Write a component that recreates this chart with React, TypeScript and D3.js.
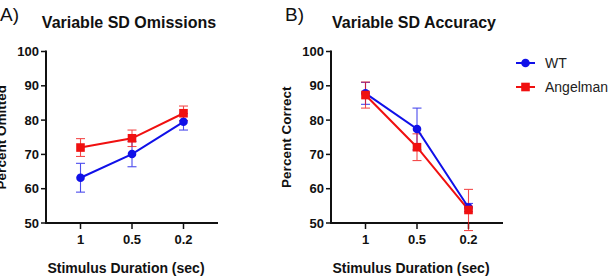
import React from 'react';
import * as d3 from 'd3';

// Stimulus durations (categorical x axis)
const durations = ['1', '0.5', '0.2'];
const yTicks = [50, 60, 70, 80, 90, 100];

// Omissions (percent omitted), mean and SEM
const omitWT = [63.2, 70.1, 79.5];
const omitWTErr = [4.2, 3.7, 2.4];
const omitAS = [72.0, 74.7, 82.0];
const omitASErr = [2.6, 2.4, 2.1];

// Accuracy (percent correct), mean and SEM
const accWT = [87.8, 77.4, 54.5];
const accWTErr = [3.2, 6.1, 1.2];
const accAS = [87.3, 72.1, 53.8];
const accASErr = [3.8, 3.9, 6.0];

const BLUE = '#1010e8';
const RED = '#f01010';
const FONT = 'Liberation Sans, Arial, Helvetica, sans-serif';

interface Series {
  name: string;
  values: number[];
  errors: number[];
  color: string;
  shape: 'circle' | 'square';
}

const Marker: React.FC<{ x: number; y: number; color: string; shape: string }> = ({ x, y, color, shape }) =>
  shape === 'circle'
    ? <circle cx={x} cy={y} r={4.3} fill={color} />
    : <rect x={x - 4.3} y={y - 4.3} width={8.6} height={8.6} fill={color} />;

interface PanelProps {
  left: number;
  letter: string;
  title: string;
  yLabel: string;
  series: Series[];
}

const Panel: React.FC<PanelProps> = ({ left, letter, title, yLabel, series }) => {
  const x0 = left;
  const x1 = left + 172;
  const yTop = 51.5;
  const yBottom = 223;

  const x = d3.scalePoint<string>().domain(durations).range([x0, x1]).padding(0.67);
  const y = d3.scaleLinear().domain([50, 100]).range([yBottom, yTop]);
  const line = d3.line<number>().x((_, i) => x(durations[i])!).y(d => y(d));

  return (
    <g fontFamily={FONT}>
      <text x={left - 46} y={21} fontSize={19} fill="#111">{letter}</text>
      <text x={(x0 + x1) / 2 - 3} y={28} fontSize={16} fontWeight="bold" textAnchor="middle" fill="#111">{title}</text>

      {/* y axis */}
      <line x1={x0} x2={x0} y1={yTop - 1} y2={yBottom + 1} stroke="#111" strokeWidth={2} />
      {yTicks.map(t => (
        <g key={t}>
          <line x1={x0 - 5} x2={x0} y1={y(t)} y2={y(t)} stroke="#111" strokeWidth={1.5} />
          <text x={x0 - 7} y={y(t)} dy="0.36em" fontSize={13} fontWeight="bold" textAnchor="end" fill="#111">{t}</text>
        </g>
      ))}
      <text
        transform={`translate(${left - 40},${(yTop + yBottom) / 2}) rotate(-90)`}
        fontSize={13.5}
        fontWeight="bold"
        textAnchor="middle"
        fill="#111"
      >
        {yLabel}
      </text>

      {/* x axis */}
      <line x1={x0 - 1} x2={x1} y1={yBottom} y2={yBottom} stroke="#111" strokeWidth={2} />
      {durations.map(d => (
        <g key={d}>
          <line x1={x(d)} x2={x(d)} y1={yBottom} y2={yBottom + 6} stroke="#111" strokeWidth={1.5} />
          <text x={x(d)} y={yBottom + 21} fontSize={13} fontWeight="bold" textAnchor="middle" fill="#111">{d}</text>
        </g>
      ))}
      <text x={(x0 + x1) / 2 - 6} y={273} fontSize={14} fontWeight="bold" textAnchor="middle" fill="#111">
        Stimulus Duration (sec)
      </text>

      {/* error bars */}
      {series.map(s =>
        s.values.map((v, i) => {
          const cx = x(durations[i])!;
          const hi = y(v + s.errors[i]);
          const lo = y(v - s.errors[i]);
          return (
            <g key={`${s.name}-e${i}`} stroke={s.color} strokeWidth={1.1} opacity={0.75}>
              <line x1={cx} x2={cx} y1={hi} y2={lo} />
              <line x1={cx - 4.5} x2={cx + 4.5} y1={hi} y2={hi} />
              <line x1={cx - 4.5} x2={cx + 4.5} y1={lo} y2={lo} />
            </g>
          );
        })
      )}

      {/* lines and markers */}
      {series.map(s => (
        <path key={`${s.name}-l`} d={line(s.values) ?? ''} fill="none" stroke={s.color} strokeWidth={2} />
      ))}
      {series.map(s =>
        s.values.map((v, i) => (
          <Marker key={`${s.name}-m${i}`} x={x(durations[i])!} y={y(v)} color={s.color} shape={s.shape} />
        ))
      )}
    </g>
  );
};

const App: React.FC = () => {
  const omissions: Series[] = [
    { name: 'WT', values: omitWT, errors: omitWTErr, color: BLUE, shape: 'circle' },
    { name: 'Angelman', values: omitAS, errors: omitASErr, color: RED, shape: 'square' },
  ];
  const accuracy: Series[] = [
    { name: 'WT', values: accWT, errors: accWTErr, color: BLUE, shape: 'circle' },
    { name: 'Angelman', values: accAS, errors: accASErr, color: RED, shape: 'square' },
  ];

  return (
    <svg
      width={609}
      height={280}
      style={{ position: 'absolute', left: 0, top: 0, background: '#fff' }}
    >
      <rect width={609} height={280} fill="#fff" />
      <Panel left={46} letter="A)" title="Variable SD Omissions" yLabel="Percent Omitted" series={omissions} />
      <Panel left={331} letter="B)" title="Variable SD Accuracy" yLabel="Percent Correct" series={accuracy} />

      {/* legend */}
      <g fontFamily={FONT}>
        {accuracy.map((s, i) => {
          const ly = 63 + i * 24;
          return (
            <g key={s.name}>
              <line x1={516} x2={535} y1={ly} y2={ly} stroke={s.color} strokeWidth={2} />
              <Marker x={525.5} y={ly} color={s.color} shape={s.shape} />
              <text x={545} y={ly} dy="0.36em" fontSize={14} fill="#222">{s.name}</text>
            </g>
          );
        })}
      </g>
    </svg>
  );
};

export default App;
